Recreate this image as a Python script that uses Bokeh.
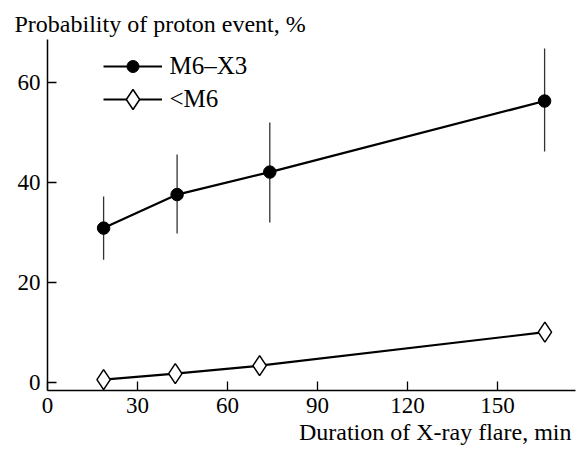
from bokeh.plotting import figure
from bokeh.models import FixedTicker, Legend, LegendItem, Title, Range1d
from bokeh.embed import file_html
from bokeh.resources import INLINE

# ---- data ----
dur_strong = [18.7, 43.2, 74.1, 165.7]
prob_strong = [30.8, 37.5, 42.0, 56.2]
err_low_strong = [24.5, 29.7, 31.9, 46.1]
err_high_strong = [37.1, 45.5, 51.9, 66.7]

dur_weak = [18.7, 42.6, 70.7, 165.8]
prob_weak = [0.5, 1.7, 3.3, 10.0]

x_ticks = [0, 30, 60, 90, 120, 150]
y_ticks = [0, 20, 40, 60]

FONT = "Times New Roman"

p = figure(width=577, height=458, output_backend="svg", toolbar_location=None,
           x_range=Range1d(0, 176), y_range=Range1d(-1.66, 68.5),
           min_border_left=47, min_border_right=2, min_border_top=39, min_border_bottom=68)

p.outline_line_color = None
p.xgrid.visible = False
p.ygrid.visible = False
p.background_fill_color = "white"
p.border_fill_color = "white"

# title (y-axis caption on top)
p.title.text = "Probability of proton event, %"
p.title.align = "left"
p.title.offset = -33
p.title.text_font = FONT
p.title.text_font_size = "24px"
p.title.text_font_style = "normal"
p.title.text_color = "black"
p.title.standoff = 6

xlabel = Title(text="Duration of X-ray flare, min", align="right",
               text_font=FONT, text_font_size="24px", text_font_style="normal",
               text_color="black", offset=4, standoff=2)
p.add_layout(xlabel, "below")

for ax in (p.xaxis[0], p.yaxis[0]):
    ax.major_label_text_font = FONT
    ax.major_label_text_font_size = "23px"
    ax.major_label_text_color = "black"
    ax.axis_line_color = "black"
    ax.axis_line_width = 1.5
    ax.major_tick_line_color = "black"
    ax.major_tick_line_width = 1.3
    ax.major_tick_in = 9
    ax.major_tick_out = 0
    ax.minor_tick_line_color = None
    ax.major_label_standoff = 7

p.xaxis[0].ticker = FixedTicker(ticks=x_ticks)
p.yaxis[0].ticker = FixedTicker(ticks=y_ticks)

# error bars
p.segment(x0=dur_strong, y0=err_low_strong, x1=dur_strong, y1=err_high_strong,
          line_color="#333333", line_width=1.3)

# lines
l1 = p.line(dur_strong, prob_strong, line_color="black", line_width=2.2)
l2 = p.line(dur_weak, prob_weak, line_color="black", line_width=2.2)

# markers
s1 = p.scatter(dur_strong, prob_strong, marker="circle", size=12.5,
               fill_color="black", line_color="black")
s2 = p.scatter(dur_weak, prob_weak, marker="diamond", size=20,
               fill_color="white", line_color="black", line_width=1.5)

leg1 = Legend(items=[LegendItem(label="M6–X3", renderers=[l1, s1])],
              location=(55.5, 309), glyph_width=59, glyph_height=30,
              label_standoff=8, padding=0, margin=0, border_line_color=None,
              background_fill_alpha=0, label_text_font=FONT,
              label_text_font_size="25px", label_text_color="black")
leg2 = Legend(items=[LegendItem(label="<M6", renderers=[l2, s2])],
              location=(55.5, 266), glyph_width=59, glyph_height=50,
              label_standoff=8, padding=0, margin=0, border_line_color=None,
              background_fill_alpha=0, label_text_font=FONT,
              label_text_font_size="25px", label_text_color="black")
p.add_layout(leg1)
p.add_layout(leg2)

open("out.html", "w").write(file_html(p, INLINE))
